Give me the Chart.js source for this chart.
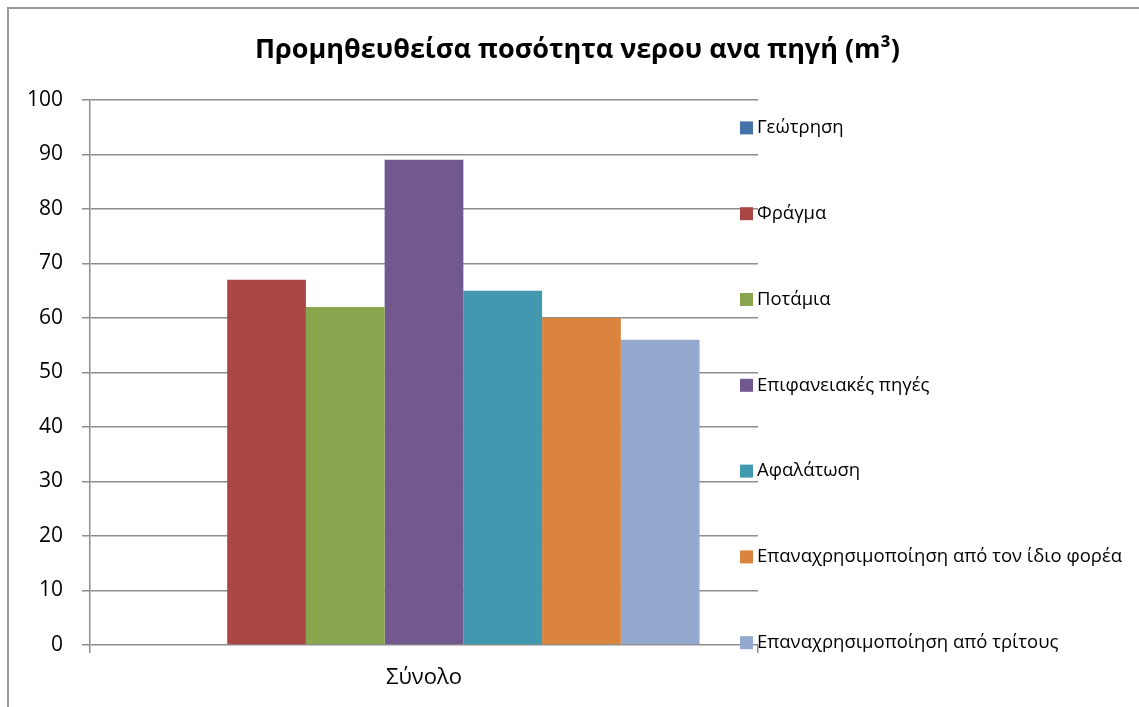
<!DOCTYPE html>
<html lang="el">
<head>
<meta charset="UTF-8">
<title>Προμηθευθείσα ποσότητα νερου ανα πηγή</title>
<script src="https://cdn.jsdelivr.net/npm/chart.js"></script>
<style>
    body { margin: 0; background: #fff; overflow: hidden; }
    /* πλαίσιο γραφήματος, συνεχίζει έξω από την οθόνη */
    .frame {
        position: absolute;
        left: 7px; top: 7px;
        width: 1200px; height: 800px;
        border: 2px solid #9a9a9a;
    }
    #chart { position: absolute; left: 0; top: 0; }
</style>
</head>
<body>
<div class="frame"></div>
<canvas id="chart" width="1139" height="707"></canvas>

<script>
    // δεδομένα
    const categories = ['Σύνολο'];
    const seriesNames = [
        'Γεώτρηση',
        'Φράγμα',
        'Ποτάμια',
        'Επιφανειακές πηγές',
        'Αφαλάτωση',
        'Επαναχρησιμοποίηση από τον ίδιο φορέα',
        'Επαναχρησιμοποίηση από τρίτους'
    ];
    const seriesValues = [0, 67, 62, 89, 65, 60, 56];
    const seriesColors = ['#4572A7', '#AA4643', '#89A54E', '#71588F', '#4198AF', '#DB843D', '#93A9CF'];
    const yTicks = [0, 10, 20, 30, 40, 50, 60, 70, 80, 90, 100];

    const FONT = "'Open Sans', 'Noto Sans', sans-serif";
    const GRID = '#8e8e8e';

    // υπόμνημα δεξιά, σαν κουτί του layout
    const sideLegend = {
        id: 'sideLegend',
        install(chart) {
            const box = {
                position: 'right',
                weight: 0,
                fullSize: false,
                options: {},
                isHorizontal() { return false; },
                update(maxWidth, maxHeight) { this.width = 381; this.height = maxHeight; },
                _layers() { return [{ z: 1, draw: () => box.draw() }]; },
                draw() {
                    const ctx = chart.ctx;
                    const x = chart.chartArea.right - 18;
                    const top = 85, step = 85.8;
                    ctx.save();
                    ctx.font = '18.5px ' + FONT;
                    ctx.textBaseline = 'middle';
                    chart.data.datasets.forEach((ds, i) => {
                        const y = top + step * (i + 0.5);
                        ctx.fillStyle = ds.backgroundColor;
                        ctx.fillRect(x, y - 6.5, 13, 13);
                        ctx.fillStyle = '#000';
                        ctx.fillText(ds.label, x + 17, y);
                    });
                    ctx.restore();
                }
            };
            Chart.layouts.addBox(chart, box);
        }
    };

    new Chart(document.getElementById('chart'), {
        type: 'bar',
        data: {
            labels: categories,
            datasets: seriesNames.map((name, i) => ({
                label: name,
                data: [seriesValues[i]],
                backgroundColor: seriesColors[i],
                borderWidth: 0,
                barPercentage: 1,
                categoryPercentage: 0.825
            }))
        },
        options: {
            responsive: false,
            animation: false,
            devicePixelRatio: 1,
            layout: { padding: { left: 16, right: 0, top: 0, bottom: 0 } },
            plugins: {
                legend: { display: false },
                tooltip: { enabled: false },
                title: {
                    display: true,
                    text: 'Προμηθευθείσα ποσότητα νερου ανα πηγή (m³)',
                    color: '#000',
                    font: { family: FONT, size: 27, weight: 'bold' },
                    padding: { top: 34, bottom: 33.5 }
                }
            },
            scales: {
                x: {
                    grid: { offset: true, drawOnChartArea: false, drawTicks: true, tickLength: 8, color: GRID, lineWidth: 1.5 },
                    border: { display: false },
                    ticks: { color: '#000', font: { family: FONT, size: 22 }, padding: 12 },
                    afterFit(scale) { scale.height = 62; }
                },
                y: {
                    min: 0,
                    max: 100,
                    afterBuildTicks(scale) { scale.ticks = yTicks.map(v => ({ value: v })); },
                    grid: { color: GRID, lineWidth: 1.5, tickLength: 8 },
                    border: { color: GRID, width: 1.5 },
                    ticks: { color: '#000', font: { family: FONT, size: 21 }, padding: 19 },
                    afterFit(scale) { scale.width = 74; }
                }
            }
        },
        plugins: [sideLegend]
    });
</script>
</body>
</html>
